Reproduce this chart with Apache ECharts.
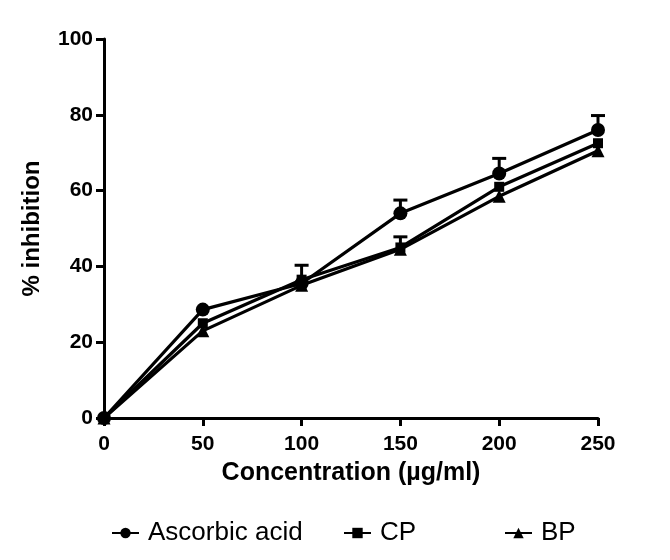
<!DOCTYPE html>
<html>
<head>
<meta charset="utf-8">
<script src="https://cdn.jsdelivr.net/npm/echarts@6/dist/echarts.min.js"></script>
<style>html,body{margin:0;padding:0;background:#fff}#c{width:670px;height:560px}</style>
</head>
<body>
<div id="c"></div>
<script>
const concentrations = [0, 50, 100, 150, 200, 250];
const ascorbicAcid = [0, 28.6, 35.5, 54, 64.5, 76];
const ascorbicErr  = [0, 0, 0, 3.5, 4, 3.8];
const cp = [0, 25, 36.5, 45, 61, 72.5];
const cpErr = [0, 0, 3.8, 2.8, 0, 0];
const bp = [0, 23, 35, 44.5, 58.5, 70.5];
const bpErr = [0, 0, 0, 0, 0, 0];
const xTicks = [0, 50, 100, 150, 200, 250];
const yTicks = [0, 20, 40, 60, 80, 100];

const FONT = "'Liberation Sans', Arial, sans-serif";
const pairs = (ys) => concentrations.map((x, i) => [x, ys[i]]);
const triples = (ys, es) => concentrations.map((x, i) => [x, ys[i], es[i]]);

function errRender(params, api) {
  const x = api.value(0), y = api.value(1), e = api.value(2);
  if (!e) return null;
  const p0 = api.coord([x, y]);
  const p1 = api.coord([x, y + e]);
  return {
    type: 'group',
    children: [
      {type: 'line', shape: {x1: p0[0], y1: p0[1], x2: p1[0], y2: p1[1]}, style: {stroke: '#000', lineWidth: 3}},
      {type: 'line', shape: {x1: p1[0] - 7, y1: p1[1], x2: p1[0] + 7, y2: p1[1]}, style: {stroke: '#000', lineWidth: 3}}
    ]
  };
}

function lineSeries(name, ys, symbol, size) {
  return {
    name: name, type: 'line', data: pairs(ys), symbol: symbol, symbolSize: size,
    clip: false, z: 3,
    lineStyle: {color: '#000', width: 3.2},
    itemStyle: {color: '#000', borderWidth: 0},
    emphasis: {disabled: true}
  };
}
function errSeries(ys, es) {
  return {type: 'custom', data: triples(ys, es), renderItem: errRender, clip: false, z: 4, silent: true};
}

const legendBase = {
  top: 515, itemWidth: 27, itemHeight: 13,
  textStyle: {fontFamily: FONT, fontSize: 26, color: '#000', padding: [0, 0, 0, 4]},
  selectedMode: false
};

const chart = echarts.init(document.getElementById('c'), null, {renderer: 'canvas'});
chart.setOption({
  animation: false,
  backgroundColor: '#fff',
  grid: {left: 104, right: 72, top: 39, bottom: 142},
  xAxis: {
    type: 'value', min: 0, max: 250, interval: 50,
    name: 'Concentration (\u00b5g/ml)', nameLocation: 'middle', nameGap: 43,
    nameTextStyle: {fontFamily: FONT, fontSize: 25, fontWeight: 'bold', color: '#000'},
    axisLine: {lineStyle: {color: '#000', width: 3}},
    axisTick: {length: 8, lineStyle: {color: '#000', width: 3}},
    axisLabel: {fontFamily: FONT, fontSize: 21, fontWeight: 'bold', color: '#000', margin: 16,
      formatter: v => xTicks.includes(v) ? String(v) : ''},
    splitLine: {show: false}
  },
  yAxis: {
    type: 'value', min: 0, max: 100, interval: 20,
    name: '% inhibition', nameLocation: 'middle', nameGap: 60,
    nameTextStyle: {fontFamily: FONT, fontSize: 24, fontWeight: 'bold', color: '#000'},
    axisLine: {lineStyle: {color: '#000', width: 3}},
    axisTick: {length: 8, lineStyle: {color: '#000', width: 3}},
    axisLabel: {fontFamily: FONT, fontSize: 21, fontWeight: 'bold', color: '#000', margin: 11,
      formatter: v => yTicks.includes(v) ? String(v) : ''},
    splitLine: {show: false}
  },
  legend: [
    Object.assign({}, legendBase, {left: 106, data: ['Ascorbic acid']}),
    Object.assign({}, legendBase, {left: 338, data: ['CP']}),
    Object.assign({}, legendBase, {left: 499, data: ['BP']})
  ],
  series: [
    lineSeries('Ascorbic acid', ascorbicAcid, 'circle', 14),
    lineSeries('CP', cp, 'rect', 10),
    lineSeries('BP', bp, 'triangle', 13),
    errSeries(ascorbicAcid, ascorbicErr),
    errSeries(cp, cpErr),
    errSeries(bp, bpErr)
  ]
});
</script>
</body>
</html>
